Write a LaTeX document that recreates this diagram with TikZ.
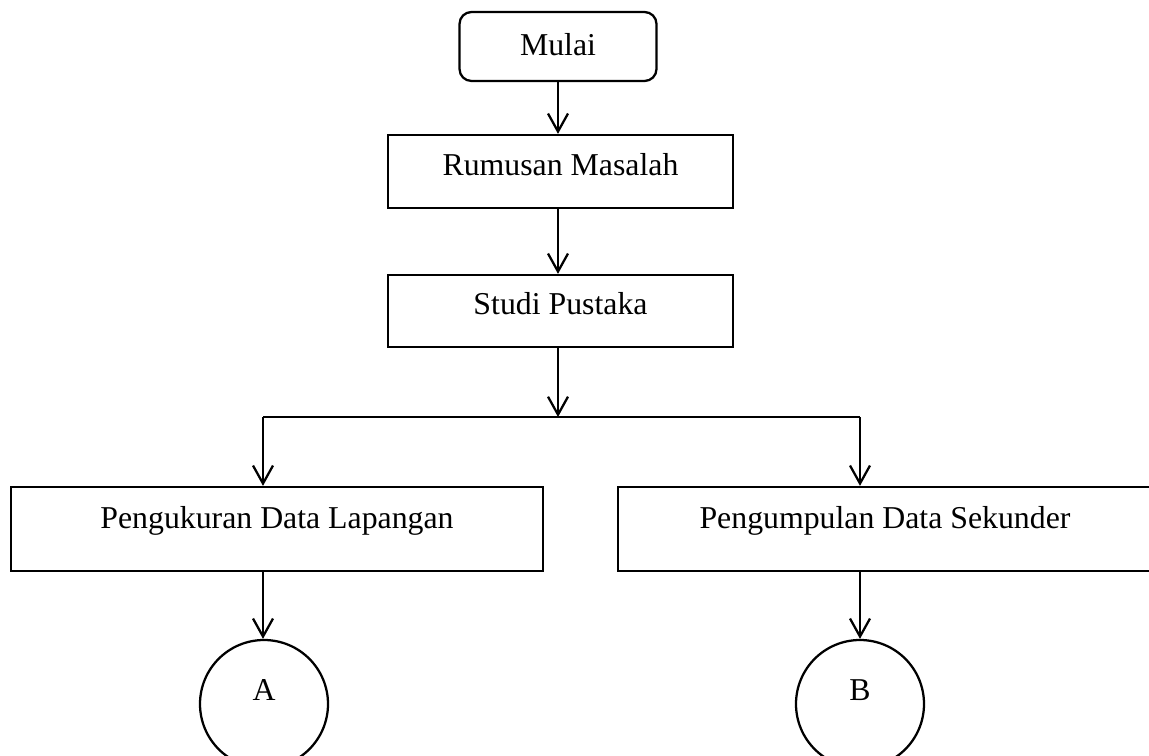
\documentclass[tikz,border=0pt]{standalone}
\usepackage{fontspec}
\setmainfont{Liberation Serif}
\usepackage{tikz}
\usetikzlibrary{arrows.meta}

\tikzset{
  flowbox/.style={draw, rectangle, line width=1.7pt, text height=16.7pt, text depth=#1},
  flowbox/.default=2.5pt,
  connector/.style={draw, circle, line width=1.7pt, minimum size=96pt, inner sep=0pt, text height=16.7pt, text depth=22pt},
  flow/.style={line width=1.7pt, -{Straight Barb[length=13.5pt,width=15pt,line width=1.7pt]}}
}

\begin{document}
\begin{tikzpicture}[x=0.75pt, y=-0.75pt, font=\fontsize{23.85}{28}\selectfont]
  \useasboundingbox (0, 0) rectangle (1149, 756);
  \node[flowbox, rounded corners=9pt, minimum width=147.75pt, minimum height=51.75pt] (mulai) at (558, 46.5) {Mulai};
  \node[flowbox=10pt, minimum width=258.75pt, minimum height=54.75pt] (rumusan) at (560.5, 171.5) {Rumusan Masalah};
  \node[flowbox=11.5pt, minimum width=258.75pt, minimum height=54pt] (studi) at (560.5, 311) {Studi Pustaka};
  \node[flowbox=18.2pt, minimum width=399pt, minimum height=63pt] (lapangan) at (277, 529) {Pengukuran Data Lapangan};
  \node[flowbox=18.2pt, minimum width=400.5pt, minimum height=63pt] (sekunder) at (885, 529) {Pengumpulan Data Sekunder};
  \node[connector] (a) at (264, 704) {A};
  \node[connector] (b) at (860, 704) {B};

  \coordinate (sm) at (558, 417);
  \coordinate (sl) at (263, 417);
  \coordinate (sr) at (860, 417);

  \draw[flow] (mulai) -- (mulai |- rumusan.north);
  \draw[flow] (rumusan.south -| mulai) -- (mulai |- studi.north);
  \draw[flow] (studi.south -| sm) -- (sm);
  \draw[line width=1.7pt] (sl) -- (sr);
  \draw[flow] (sl) -- (sl |- lapangan.north);
  \draw[flow] (sr) -- (sr |- sekunder.north);
  \draw[flow] (lapangan.south -| sl) -- (sl |- a.north);
  \draw[flow] (sekunder.south -| sr) -- (b);
\end{tikzpicture}
\end{document}
